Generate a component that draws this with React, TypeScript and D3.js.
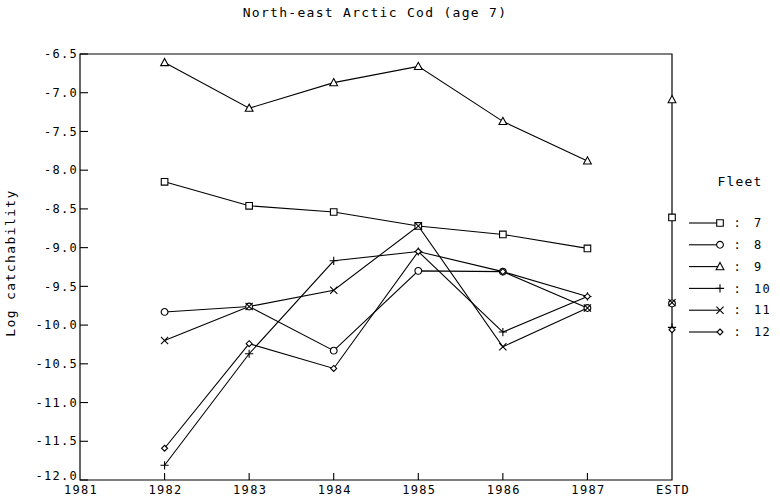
import React from "react";
import * as d3 from "d3";

const title = "North-east Arctic Cod (age 7)";
const yLabel = "Log catchability";
const legendTitle = "Fleet";

const years = [1982, 1983, 1984, 1985, 1986, 1987];
const xTickValues = [1981, 1982, 1983, 1984, 1985, 1986, 1987, 1988];
const xTickLabels = ["1981", "1982", "1983", "1984", "1985", "1986", "1987", "ESTD"];
const yTickValues = [-6.5, -7.0, -7.5, -8.0, -8.5, -9.0, -9.5, -10.0, -10.5, -11.0, -11.5, -12.0];

const fleetNames = ["7", "8", "9", "10", "11", "12"];
const fleetMarkers = ["square", "circle", "triangle", "plus", "times", "diamond"];
const fleet7 = [-8.15, -8.46, -8.54, -8.72, -8.83, -9.01];
const fleet8 = [-9.83, -9.76, -10.33, -9.30, -9.31, -9.78];
const fleet9 = [-6.61, -7.20, -6.87, -6.66, -7.37, -7.88];
const fleet10 = [-11.81, -10.37, -9.17, -9.05, -10.09, -9.63];
const fleet11 = [-10.20, -9.76, -9.55, -8.72, -10.28, -9.78];
const fleet12 = [-11.59, -10.24, -10.56, -9.05, -9.31, -9.63];
const estdValues = [-8.61, -9.72, -7.09, -10.03, -9.71, -10.06];

const series = [fleet7, fleet8, fleet9, fleet10, fleet11, fleet12];

const W = 780;
const H = 500;
const left = 80;
const right = 672;
const top = 54;
const bottom = 480;

const x = d3.scaleLinear().domain([1981, 1988]).range([left, right]);
const y = d3.scaleLinear().domain([-12, -6.5]).range([bottom, top]);

const FONT = "'DejaVu Sans Mono', 'Liberation Mono', monospace";

function markerPath(type: string, s: number): string {
  switch (type) {
    case "square":
      return `M${-s},${-s}H${s}V${s}H${-s}Z`;
    case "circle":
      return `M${-s},0A${s},${s} 0 1,0 ${s},0A${s},${s} 0 1,0 ${-s},0Z`;
    case "triangle":
      return `M0,${-s - 0.5}L${s + 0.3},${s - 0.5}L${-s - 0.3},${s - 0.5}Z`;
    case "plus":
      return `M${-s - 0.5},0H${s + 0.5}M0,${-s - 0.5}V${s + 0.5}`;
    case "times":
      return `M${-s},${-s}L${s},${s}M${s},${-s}L${-s},${s}`;
    case "diamond":
      return `M0,${-s}L${s},0L0,${s}L${-s},0Z`;
    default:
      return "";
  }
}

const markerSize: Record<string, number> = {
  square: 3.3,
  circle: 3.4,
  triangle: 3.6,
  plus: 3.6,
  times: 3.6,
  diamond: 3,
};

function Marker({ type, cx, cy }: { type: string; cx: number; cy: number }) {
  const filled = type !== "plus" && type !== "times";
  return (
    <path
      d={markerPath(type, markerSize[type])}
      transform={`translate(${cx},${cy})`}
      fill={filled ? "#fff" : "none"}
      stroke="#000"
      strokeWidth={1.1}
    />
  );
}

export default function App() {
  const line = d3
    .line<number>()
    .x((_, i) => x(years[i]))
    .y((d) => y(d));

  const legendX0 = 689;
  const legendX1 = 720;
  const legendY0 = 223;
  const legendStep = 21.8;

  return (
    <svg
      width={W}
      height={H}
      style={{ position: "absolute", left: 0, top: 0, background: "#fff" }}
      fontFamily={FONT}
    >
      <rect x={0} y={0} width={W} height={H} fill="#fff" />
      <text x={375} y={17} textAnchor="middle" fontSize={13} letterSpacing={1.3} fill="#000">
        {title}
      </text>

      {/* frame */}
      <path
        d={`M${left},${top}H${right}V${bottom}H${left}Z`}
        fill="none"
        stroke="#000"
        strokeWidth={1.2}
      />

      {/* y ticks */}
      {yTickValues.map((v, i) => (
        <g key={"y" + v}>
          <line x1={left} x2={left + 8} y1={y(v)} y2={y(v)} stroke="#000" strokeWidth={1.1} />
          <text
            x={left - 2}
            y={y(v) - (i === yTickValues.length - 1 ? 4 : 0)}
            dy="0.35em"
            textAnchor="end"
            fontSize={12}
            letterSpacing={1.3}
            fill="#000"
          >
            {v.toFixed(1)}
          </text>
        </g>
      ))}

      {/* x ticks */}
      {xTickValues.map((v, i) => (
        <g key={"x" + v}>
          {i > 0 && i < xTickValues.length - 1 && (
            <line x1={x(v)} x2={x(v)} y1={bottom} y2={bottom - 7} stroke="#000" strokeWidth={1.1} />
          )}
          <text
            x={x(v) + 1}
            y={bottom + 14}
            textAnchor="middle"
            fontSize={12}
            letterSpacing={1.3}
            fill="#000"
          >
            {xTickLabels[i]}
          </text>
        </g>
      ))}

      {/* y label */}
      <text
        transform={`translate(15,263) rotate(-90)`}
        textAnchor="middle"
        fontSize={13}
        letterSpacing={1.4}
        fill="#000"
      >
        {yLabel}
      </text>

      {/* series lines */}
      {series.map((vals, k) => (
        <path key={"l" + k} d={line(vals) || ""} fill="none" stroke="#000" strokeWidth={1.1} />
      ))}

      {/* markers */}
      {series.map((vals, k) =>
        vals.map((v, i) => (
          <Marker key={`m${k}-${i}`} type={fleetMarkers[k]} cx={x(years[i])} cy={y(v)} />
        ))
      )}

      {/* ESTD markers */}
      {estdValues.map((v, k) => (
        <Marker key={"e" + k} type={fleetMarkers[k]} cx={x(1988)} cy={y(v)} />
      ))}

      {/* legend */}
      <text x={740} y={186} textAnchor="middle" fontSize={13} letterSpacing={1.2} fill="#000">
        {legendTitle}
      </text>
      {fleetNames.map((name, k) => {
        const ly = legendY0 + k * legendStep;
        return (
          <g key={"lg" + k}>
            <line x1={legendX0} x2={legendX1} y1={ly} y2={ly} stroke="#000" strokeWidth={1.1} />
            <Marker type={fleetMarkers[k]} cx={legendX1} cy={ly} />
            <text x={737} y={ly} dy="0.35em" textAnchor="middle" fontSize={12} fill="#000">
              :
            </text>
            <text x={754} y={ly} dy="0.35em" fontSize={12} letterSpacing={1.3} fill="#000">
              {name}
            </text>
          </g>
        );
      })}
    </svg>
  );
}
